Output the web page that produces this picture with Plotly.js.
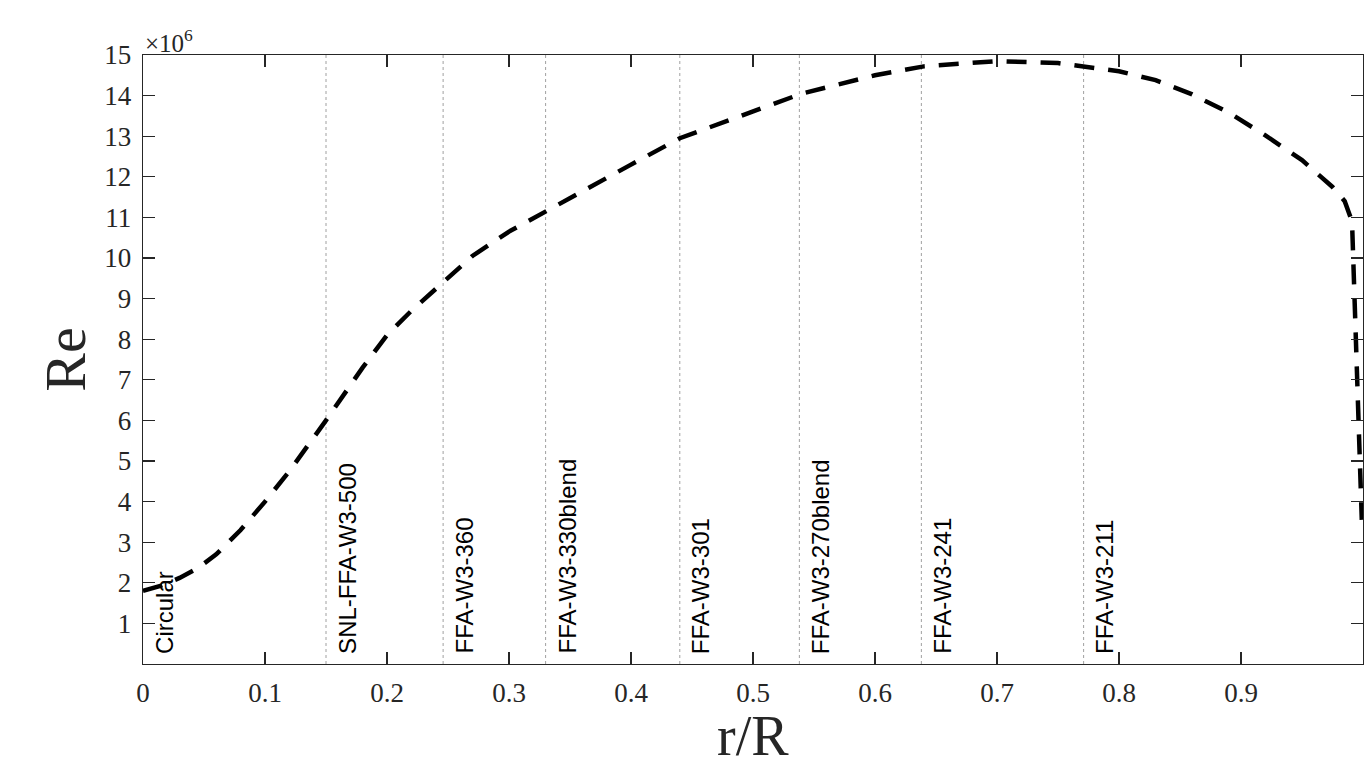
<!DOCTYPE html>
<html>
<head>
<meta charset="utf-8">
<script src="https://cdn.plot.ly/plotly-3.0.1.min.js"></script>
<style>html,body{margin:0;padding:0;background:#fff;}#chart{width:1365px;height:757px;}</style>
</head>
<body>
<div id="chart"></div>
<script>
// r/R positions along the blade
const rR = [0, 0.015, 0.03, 0.045, 0.06, 0.08, 0.1, 0.12, 0.15, 0.18, 0.2, 0.22, 0.246, 0.27, 0.3, 0.33, 0.36, 0.4, 0.44, 0.5, 0.54, 0.6, 0.64, 0.7, 0.75, 0.8, 0.83, 0.86, 0.89, 0.92, 0.95, 0.975, 0.985, 0.991, 0.993, 0.995, 0.997, 0.999];
// Reynolds number (x 1e6)
const Re = [1.8, 1.93, 2.12, 2.36, 2.7, 3.3, 4.0, 4.75, 6.0, 7.3, 8.1, 8.7, 9.4, 10.05, 10.65, 11.15, 11.65, 12.3, 12.95, 13.6, 14.05, 14.5, 14.72, 14.85, 14.8, 14.6, 14.38, 14.03, 13.58, 13.02, 12.41, 11.75, 11.4, 10.9, 9.0, 7.0, 5.2, 3.55];
// airfoil section boundaries
const airfoilPos = [0, 0.15, 0.246, 0.33, 0.44, 0.538, 0.638, 0.771];
const airfoilNames = ["Circular", "SNL-FFA-W3-500", "FFA-W3-360", "FFA-W3-330blend", "FFA-W3-301", "FFA-W3-270blend", "FFA-W3-241", "FFA-W3-211"];
const xTicks = [0, 0.1, 0.2, 0.3, 0.4, 0.5, 0.6, 0.7, 0.8, 0.9, 1];
const xTickText = ["0", "0.1", "0.2", "0.3", "0.4", "0.5", "0.6", "0.7", "0.8", "0.9", "1"];
const yTicks = [1, 2, 3, 4, 5, 6, 7, 8, 9, 10, 11, 12, 13, 14, 15];
const xTitle = "r/R";
const yTitle = "Re";

const vx = [], vy = [];
airfoilPos.slice(1).forEach(p => { vx.push(p, p, null); vy.push(0, 15, null); });

const traces = [
  {x: vx, y: vy, mode: 'lines', line: {color: '#a0a0a0', width: 1, dash: 'dot'}, hoverinfo: 'skip', showlegend: false},
  {x: rR, y: Re, mode: 'lines', line: {color: '#000', width: 4.5, dash: '20px,14px'}, showlegend: false}
];

const serif = '"Liberation Serif", "DejaVu Serif", serif';
const annotations = airfoilNames.map((n, i) => ({
  x: airfoilPos[i], y: 0.2, xref: 'x', yref: 'y', text: n, showarrow: false,
  textangle: -90, xanchor: 'left', yanchor: 'bottom', xshift: 6,
  font: {family: '"Liberation Sans", Arial, sans-serif', size: 24, color: '#000'}
}));
annotations.push({x: 0, y: 1, xref: 'paper', yref: 'paper', xanchor: 'left', yanchor: 'bottom',
  text: '×10<sup>6</sup>', showarrow: false, font: {family: serif, size: 25, color: '#262626'}, yshift: -4});
annotations.push({x: 0.5, y: 0, xref: 'paper', yref: 'paper', xanchor: 'center', yanchor: 'middle',
  yshift: -72, text: xTitle, showarrow: false, font: {family: serif, size: 56, color: '#262626'}});

const axisCommon = {
  showgrid: false, zeroline: false, showline: true, linecolor: '#262626', linewidth: 1.3,
  mirror: 'allticks', ticks: 'inside', ticklen: 12, tickwidth: 1.3, tickcolor: '#262626',
  tickfont: {family: serif, size: 27, color: '#262626'}
};

const layout = {
  width: 1365, height: 757,
  margin: {l: 143, r: 2, t: 55, b: 93},
  paper_bgcolor: '#fff', plot_bgcolor: '#fff',
  xaxis: Object.assign({}, axisCommon, {range: [0, 1], tickvals: xTicks, ticktext: xTickText,
    ticklabelstandoff: 4}),
  yaxis: Object.assign({}, axisCommon, {range: [0, 15], tickvals: yTicks,
    ticklabelstandoff: 5,
    title: {text: yTitle, font: {family: serif, size: 58, color: '#262626'}, standoff: 0}}),
  annotations: annotations
};

Plotly.newPlot('chart', traces, layout, {displayModeBar: false, staticPlot: true});
</script>
</body>
</html>
